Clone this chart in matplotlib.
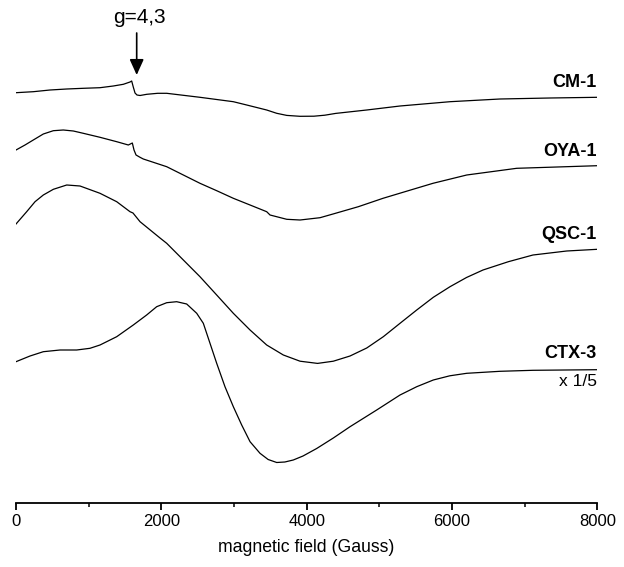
import matplotlib
matplotlib.use("Agg")
import matplotlib.pyplot as plt
from matplotlib.ticker import MultipleLocator

plt.rcParams['font.family'] = ['Liberation Sans', 'DejaVu Sans']

# field (Gauss) and offset intensities (a.u.)
cm1_field = [0, 238, 468, 698, 926, 1156, 1339, 1477, 1569, 1592, 1614, 1638, 1665,
             1707, 1800, 1950, 2074, 2532, 2991, 3175, 3450, 3588, 3726, 3909, 4100,
             4250, 4400, 4827, 5285, 5973, 6661, 7349, 8000]
cm1_int = [410.3, 411.3, 413, 414, 414.7, 415.3, 417, 418.7, 421, 422, 416, 410, 408,
           407.5, 408.7, 409.7, 409.7, 405.7, 401.3, 398, 393, 389.7, 387.6, 386.7, 386.8,
           387.8, 389.6, 393, 397, 401.3, 404, 405, 405.7]

oya1_field = [0, 124, 238, 376, 514, 651, 789, 926, 1156, 1386, 1546, 1601, 1624, 1652,
              1707, 1752, 2074, 2303, 2532, 2762, 2991, 3221, 3450, 3496, 3726, 3909,
              4184, 4363, 4711, 5051, 5399, 5739, 6203, 6891, 8000]
oya1_int = [353, 358, 363, 369, 372.3, 373, 372, 369.7, 365.7, 361.3, 358, 360, 353, 348,
            345.7, 344, 336.3, 328, 319.7, 312.3, 304.7, 298, 291.3, 288, 283.7, 283,
            285.3, 289, 296.3, 304.7, 312.3, 319.7, 328, 334.7, 337.3]

qsc1_field = [0, 147, 262, 376, 514, 698, 881, 1156, 1386, 1569, 1610, 1707, 1982, 2074,
              2303, 2532, 2762, 2991, 3221, 3450, 3679, 3909, 4150, 4367, 4597, 4827,
              5055, 5285, 5515, 5743, 5973, 6200, 6427, 6776, 7115, 7579, 8000]
qsc1_int = [279, 291.3, 301.3, 308, 313.7, 318, 317, 309.7, 301.3, 291.3, 290, 281.3, 265,
            259.7, 243, 226.3, 208, 189.7, 173, 158, 148, 141.8, 139.6, 141.8, 147, 155,
            166.3, 179.7, 193, 205.7, 216.3, 225.5, 233, 241.3, 248, 252, 253.7]

ctx3_field = [0, 193, 376, 606, 835, 1018, 1156, 1386, 1614, 1798, 1936, 2074, 2211,
              2349, 2487, 2578, 2670, 2762, 2876, 2991, 3106, 3221, 3358, 3470, 3588,
              3700, 3816, 3950, 4138, 4367, 4597, 4964, 5285, 5515, 5743, 5970, 6203,
              6661, 7115, 8000]
ctx3_int = [141.3, 147, 151.3, 153, 153, 154.7, 158, 166.3, 178, 188, 196.3, 200.3, 201.3,
            199, 189.7, 179.7, 159.7, 139.7, 116.3, 96.3, 78, 61.3, 49.7, 43.5, 40.5,
            41, 43, 47, 54.5, 65, 76.3, 93, 108, 116.3, 123, 127.2, 129.7,
            131.7, 132.7, 133.3]

series_names = ['CM-1', 'OYA-1', 'QSC-1', 'CTX-3']
label_levels = [421, 352, 269, 149]
scale_note = 'x 1/5'
scale_level = 121
marker_text = 'g=4,3'
marker_field = 1661

xticks = [0, 2000, 4000, 6000, 8000]

fig = plt.figure(figsize=(6.24, 5.67), dpi=100)
ax = fig.add_axes([16/624, 1-503/567, (597.3-16)/624, 503/567])

for f, v in [(cm1_field, cm1_int), (oya1_field, oya1_int),
             (qsc1_field, qsc1_int), (ctx3_field, ctx3_int)]:
    ax.plot(f, v, color='black', lw=0.9, solid_joinstyle='round')

for name, lvl in zip(series_names, label_levels):
    ax.text(7990, lvl, name, ha='right', va='center', fontsize=13, fontweight='bold')
ax.text(7990, scale_level, scale_note, ha='right', va='center', fontsize=12.5)

ax.annotate('', xy=(marker_field, 428), xytext=(marker_field, 470),
            arrowprops=dict(arrowstyle='-|>,head_length=0.95,head_width=0.43',
                            mutation_scale=10, color='black', lw=1.2,
                            shrinkA=0, shrinkB=0))
ax.text(marker_field + 40, 480, marker_text, ha='center', va='baseline', fontsize=15)

ax.set_xlim(0, 8000)
ax.set_ylim(0, 503)
ax.set_xticks(xticks)
ax.set_xticklabels([str(t) for t in xticks])
ax.xaxis.set_minor_locator(MultipleLocator(1000))
ax.set_yticks([])
for s in ['left', 'right', 'top']:
    ax.spines[s].set_visible(False)
ax.spines['bottom'].set_linewidth(1.3)
ax.tick_params(axis='x', which='major', direction='out', length=5, width=1.3,
               labelsize=12, pad=3)
ax.tick_params(axis='x', which='minor', direction='out', length=3, width=1.1)
ax.set_xlabel('magnetic field (Gauss)', fontsize=12.7, labelpad=7)
ax.patch.set_alpha(0)

fig.savefig('out.png', dpi=100)
